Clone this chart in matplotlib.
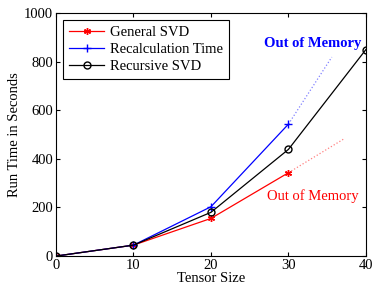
import matplotlib
matplotlib.use('Agg')
import matplotlib.pyplot as plt

plt.rcParams['font.family'] = ['Liberation Serif', 'DejaVu Serif']
plt.rcParams['mathtext.fontset'] = 'stix'

sizes = [0, 10, 20, 30]
general = [0, 45, 155, 343]
recalc = [0, 45, 203, 543]
rec_sizes = [0, 10, 20, 30, 40]
recursive = [0, 45, 180, 439, 850]

# dotted "out of memory" extrapolations
general_ext_x = [30, 37.3]
general_ext_y = [343, 485]
recalc_ext_x = [30, 35.6]
recalc_ext_y = [543, 819]

fig = plt.figure(figsize=(3.73, 2.91), dpi=100)
ax = fig.add_axes([0.150, 0.120, 0.831, 0.835])

ax.plot(sizes, general, color='red', marker=(6, 2, 0), markersize=5, mew=1, lw=0.9,
        label='General SVD')
ax.plot(sizes, recalc, color='blue', marker='+', markersize=6, lw=0.9, label='Recalculation Time')
ax.plot(rec_sizes, recursive, color='black', marker='o', markersize=5, mfc='none', lw=0.9,
        label='Recursive SVD')
ax.plot(general_ext_x, general_ext_y, color='red', ls=':', lw=0.9, alpha=0.5)
ax.plot(recalc_ext_x, recalc_ext_y, color='blue', ls=':', lw=0.9, alpha=0.5)

ax.text(33.1, 876, 'Out of Memory', color='blue', fontsize=10.5, fontweight='bold',
        ha='center', va='center')
ax.text(33.1, 247, 'Out of Memory', color='red', fontsize=10.5, ha='center', va='center')

ax.set_xlim(0, 40)
ax.set_ylim(0, 1000)
ax.set_xticks([0, 10, 20, 30, 40])
ax.set_yticks([0, 200, 400, 600, 800, 1000])
ax.tick_params(direction='in', top=True, right=True, labelsize=10.5, length=3, pad=2)
ax.set_xlabel('Tensor Size', fontsize=10.5, labelpad=0)
ax.set_ylabel('Run Time in Seconds', fontsize=10.5, labelpad=2)

leg = ax.legend(loc='upper left', fontsize=10.5, fancybox=False, framealpha=1,
                edgecolor='black', borderaxespad=0.5, handlelength=2.4,
                borderpad=0.4, labelspacing=0.25, handletextpad=0.4)
leg.get_frame().set_linewidth(0.8)

fig.savefig('out.png', dpi=100)
